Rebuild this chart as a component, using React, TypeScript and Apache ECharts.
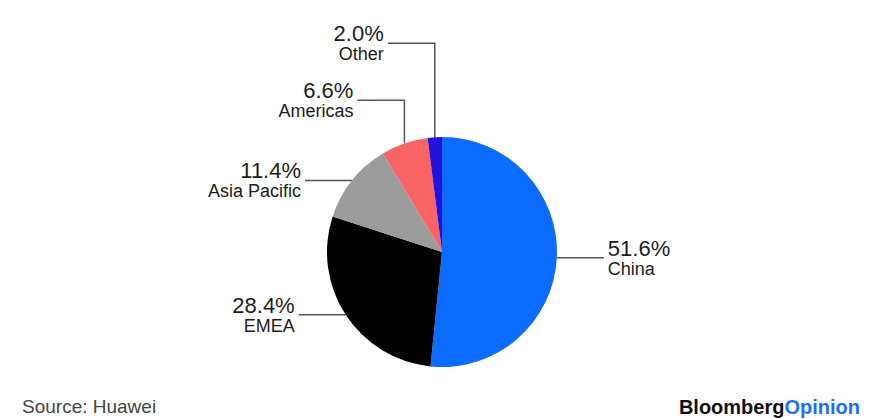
import React, { useEffect, useRef } from 'react';
import * as echarts from 'echarts';

const regions = ['China', 'EMEA', 'Asia Pacific', 'Americas', 'Other'];
const shares = [51.6, 28.4, 11.4, 6.6, 2.0];
const sliceColors = ['#0b6cff', '#000000', '#9b9b9b', '#f86464', '#2412dc'];
// vertical rise of each leader line before it turns horizontal (px)
const leaderRise = [0, 0, 0, 43, 94];
const sourceText = 'Source: Huawei';
const brandParts = ['Bloomberg', 'Opinion'];

export default function App() {
  const ref = useRef<HTMLDivElement>(null);
  useEffect(() => {
    const chart = echarts.init(ref.current!, null, { renderer: 'svg' });
    const horiz = 47;
    const gap = 4;
    chart.setOption({
      animation: false,
      backgroundColor: '#ffffff',
      series: [
        {
          type: 'pie',
          center: [442, 252],
          radius: 115,
          startAngle: 90,
          clockwise: true,
          avoidLabelOverlap: false,
          silent: true,
          emphasis: { disabled: true },
          data: regions.map((n, i) => ({
            name: n,
            value: shares[i],
            itemStyle: { color: sliceColors[i] },
          })),
          label: {
            show: true,
            formatter: (p: any) => `{v|${Number(p.value).toFixed(1)}%}\n{n|${p.name}}`,
            rich: {
              v: { fontFamily: 'Liberation Sans', fontSize: 22, lineHeight: 22, color: '#1c1c1c' },
              n: { fontFamily: 'Liberation Sans', fontSize: 18, lineHeight: 19, color: '#1c1c1c' },
            },
          },
          labelLine: {
            show: true,
            length: 10,
            length2: 20,
            lineStyle: { color: '#555', width: 1.5 },
          },
          labelLayout: (params: any) => {
            const pts = params.labelLinePoints;
            if (!pts || !pts.length) return {};
            const x0 = pts[0][0];
            const y0 = pts[0][1];
            const isRight = pts[pts.length - 1][0] > x0;
            const rise = leaderRise[params.dataIndex] || 0;
            if (rise > 0) {
              const yT = y0 - rise;
              return {
                x: x0 - horiz - gap,
                y: yT,
                align: 'right',
                verticalAlign: 'middle',
                labelLinePoints: [[x0, y0], [x0, yT], [x0 - horiz, yT]],
              };
            }
            if (isRight) {
              return {
                x: x0 + horiz + gap,
                y: y0,
                align: 'left',
                verticalAlign: 'middle',
                labelLinePoints: [[x0, y0], [x0 + horiz / 2, y0], [x0 + horiz, y0]],
              };
            }
            return {
              x: x0 - horiz - gap,
              y: y0,
              align: 'right',
              verticalAlign: 'middle',
              labelLinePoints: [[x0, y0], [x0 - horiz / 2, y0], [x0 - horiz, y0]],
            };
          },
        },
      ],
      graphic: [
        {
          type: 'text',
          left: 22,
          top: 397,
          style: { text: sourceText, font: '19px "Liberation Sans"', fill: '#444' },
        },
        {
          type: 'text',
          right: 16,
          top: 397,
          style: {
            text: `{a|${brandParts[0]}}{b|${brandParts[1]}}`,
            rich: {
              a: { fontFamily: 'Liberation Sans', fontWeight: 'bold', fontSize: 20, fill: '#111' },
              b: { fontFamily: 'Liberation Sans', fontWeight: 'bold', fontSize: 20, fill: '#1a6fff' },
            },
          },
        },
      ],
    });
    return () => chart.dispose();
  }, []);
  return (
    <div
      ref={ref}
      style={{ position: 'fixed', left: 0, top: 0, width: 876, height: 419 }}
    />
  );
}
